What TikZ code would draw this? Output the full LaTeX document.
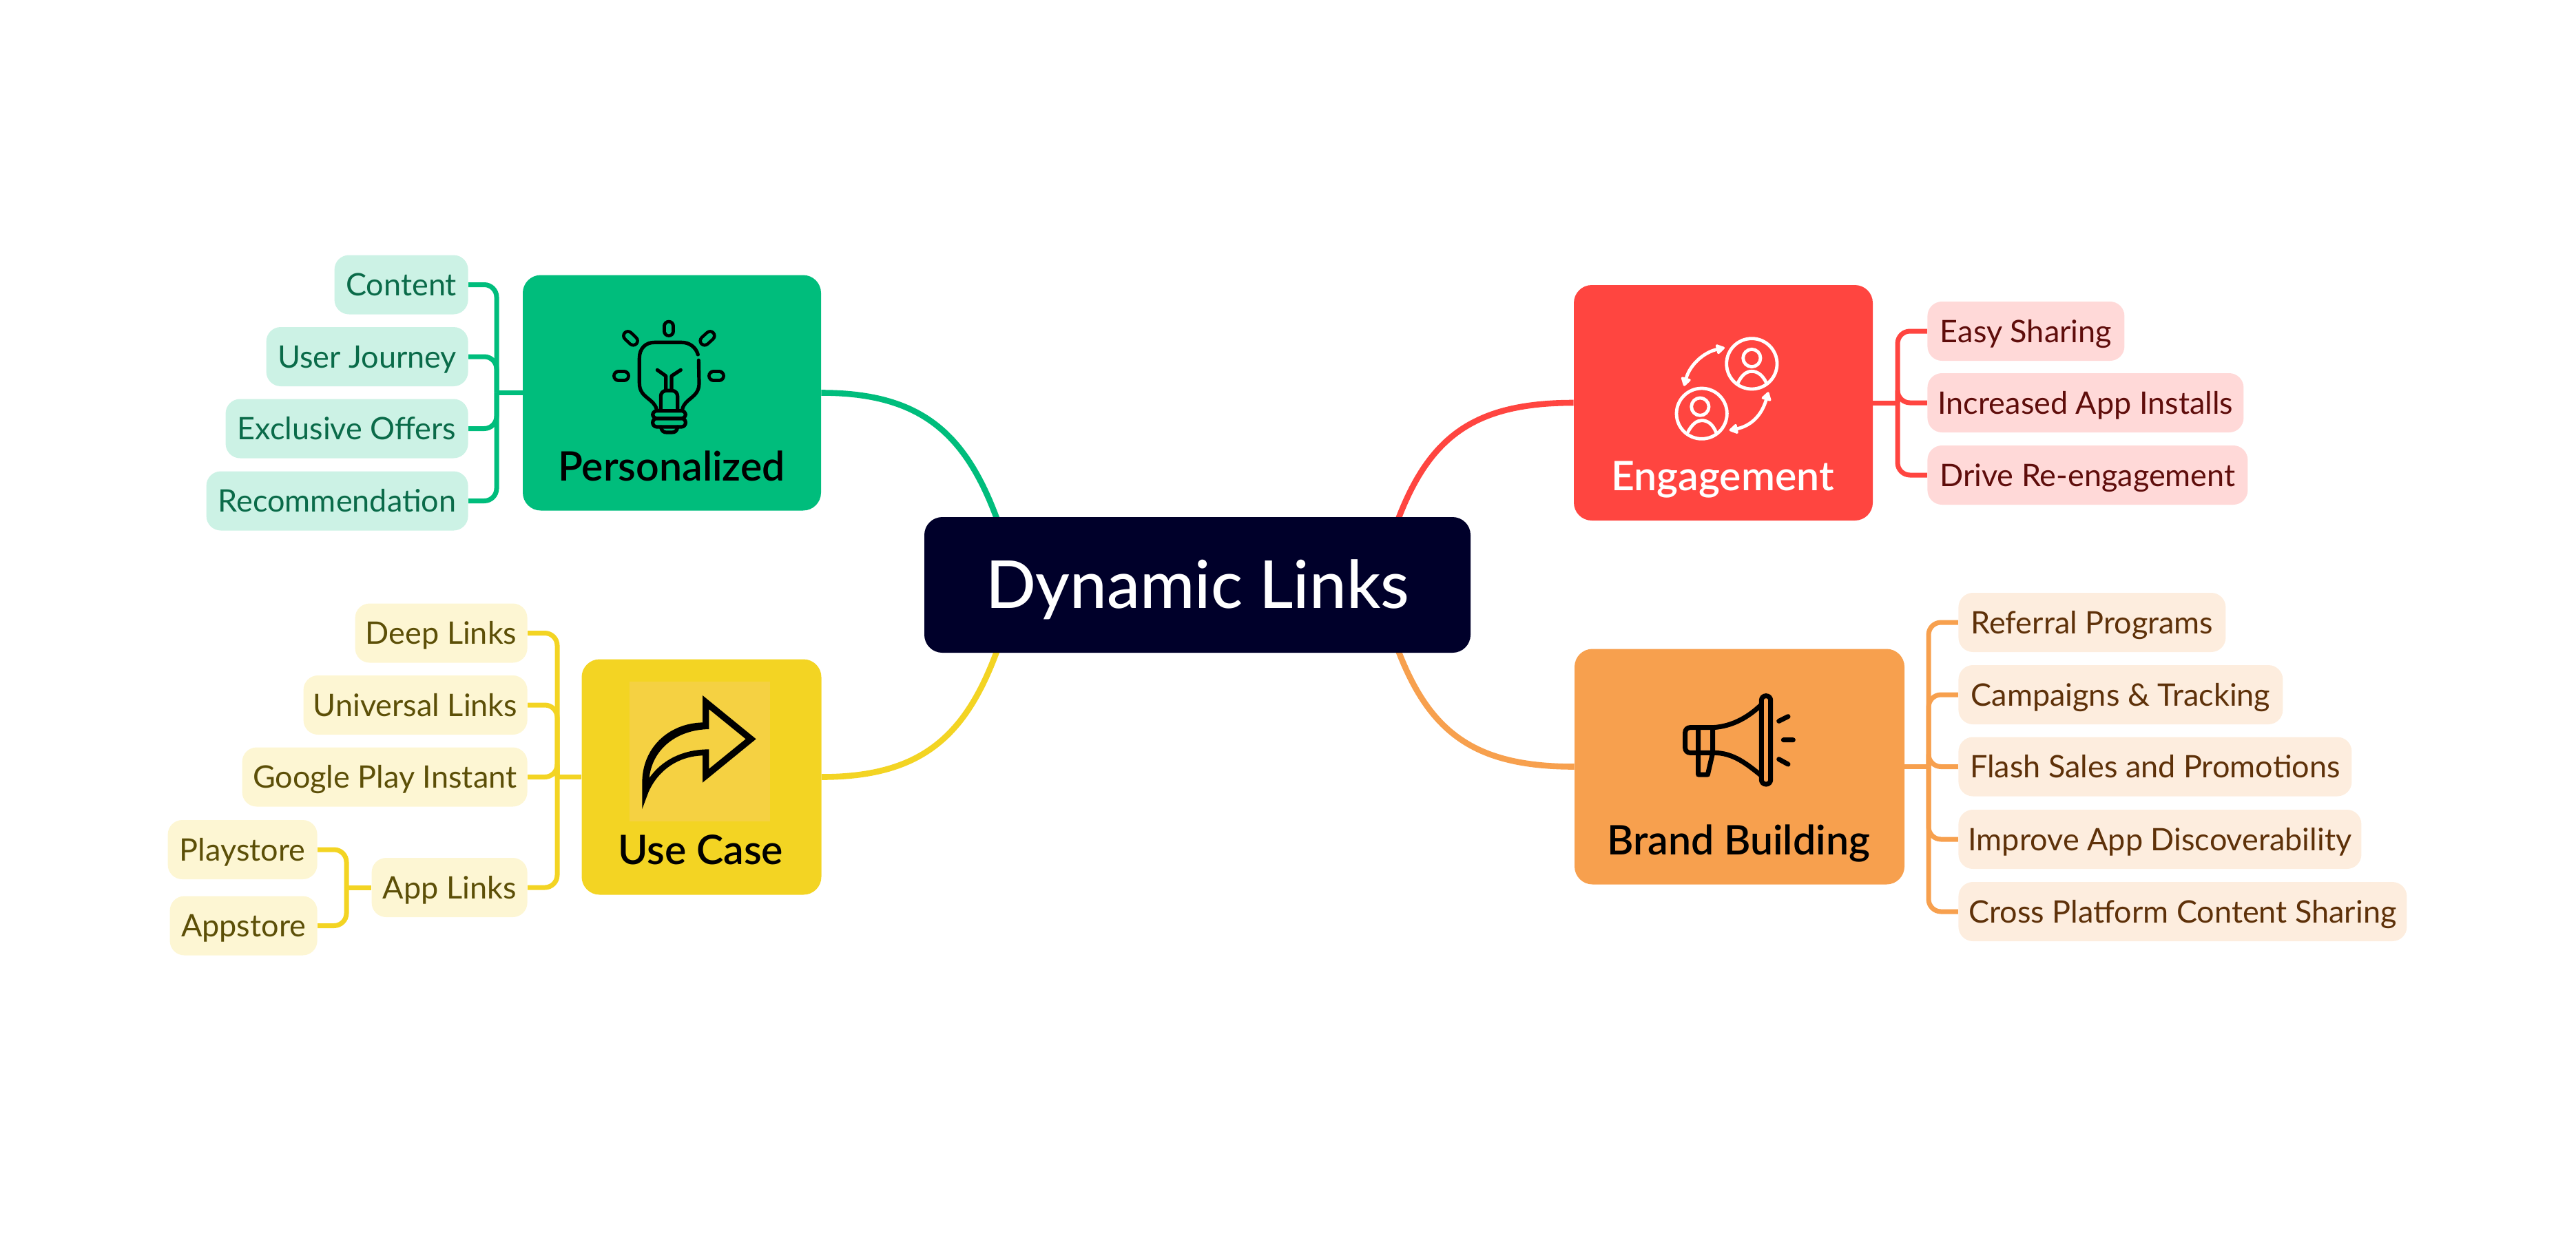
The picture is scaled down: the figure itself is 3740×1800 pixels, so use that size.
\documentclass[tikz,border=0pt]{standalone}
\usepackage{fontspec}
\setmainfont{Lato}
\newfontfamily\rootfont{Lato Medium}
\newfontfamily\titlefont{Lato Semibold}
\usetikzlibrary{backgrounds,arrows.meta}

\definecolor{rootcol}{HTML}{00002A}
\definecolor{greencol}{HTML}{00BD7C}
\definecolor{greenfill}{HTML}{CCF2E5}
\definecolor{greentext}{HTML}{0A6B49}
\definecolor{yellowcol}{HTML}{F3D423}
\definecolor{yellowfill}{HTML}{FDF6D3}
\definecolor{yellowtext}{HTML}{5C4F07}
\definecolor{yellowback}{HTML}{F5D142}
\definecolor{redcol}{HTML}{FF4540}
\definecolor{redfill}{HTML}{FFD9D8}
\definecolor{redtext}{HTML}{5F0D0B}
\definecolor{orangecol}{HTML}{F7A04E}
\definecolor{orangefill}{HTML}{FDEDDE}
\definecolor{orangetext}{HTML}{5E3109}

\tikzset{
  root/.style={fill=rootcol,text=white,rounded corners=13pt,inner sep=0pt,
    minimum width=396.5pt,minimum height=98.5pt,text height=37pt,text depth=3.5pt,
    font=\rootfont\fontsize{48}{54}\selectfont},
  topic/.style={fill=#1col,rounded corners=13pt,inner sep=0pt,minimum height=171pt},
  title/.style={anchor=base,inner sep=0pt,font=\titlefont\fontsize{29.5}{34}\selectfont},
  leaf/.style={fill=#1fill,text=#1text,rounded corners=10.5pt,inner sep=0pt,
    minimum height=43pt,text height=18pt,text depth=2pt,
    font=\fontsize{22.5}{27}\selectfont},
  leafR/.style={leaf=#1,anchor=east},
  leafL/.style={leaf=#1,anchor=west},
  trunk/.style={draw=#1col,line width=4.3pt},
  branch/.style={draw=#1col,line width=3.5pt,rounded corners=9pt},
  glyph/.style={x=0.16667pt,y=-0.16667pt,line cap=round,line join=round}
}

\begin{document}
\begin{tikzpicture}[x=0.5pt,y=-0.5pt]
  \useasboundingbox (0,0) rectangle (3740,1800);

  \node[root] (Root) at (1738.5,849.5) {Dynamic Links};

  % Personalized
  \node[topic=green,minimum width=216.5pt] (Personalized) at (975.5,570.5) {};
  \node[title] (PersonalizedT) at (975,698) {Personalized};
  \node[leafR=green,minimum width=97pt] (Content) at (680,413.5) {Content};
  \node[leafR=green,minimum width=146.5pt] (Journey) at (680,518) {User Journey};
  \node[leafR=green,minimum width=176pt] (Offers) at (680,622.5) {Exclusive Offers};
  \node[leafR=green,minimum width=190pt] (Recommend) at (680,727.5) {Recommendation};
  \coordinate (PersonalizedJ) at (721,570.5);
  \coordinate (PersonalizedE) at (1477,850);

  % Use Case
  \node[topic=yellow,minimum width=174pt] (UseCase) at (1018.5,1128.5) {};
  \node[title,text=black] (UseCaseT) at (1017,1255) {Use Case};
  \node[leafR=yellow,minimum width=125pt] (DeepLinks) at (766,919.5) {Deep Links};
  \node[leafR=yellow,minimum width=162.5pt] (UniLinks) at (766,1024) {Universal Links};
  \node[leafR=yellow,minimum width=207pt] (PlayInstant) at (766,1128.5) {Google Play Instant};
  \node[leafR=yellow,minimum width=113pt] (AppLinks) at (766,1289) {App Links};
  \node[leafR=yellow,minimum width=108.5pt] (Playstore) at (461,1234) {Playstore};
  \node[leafR=yellow,minimum width=107pt] (Appstore) at (461,1344.5) {Appstore};
  \coordinate (UseCaseJ) at (809,1128.5);
  \coordinate (AppLinksJ) at (503,1289);
  \coordinate (UseCaseE) at (1477,849);

  % Engagement
  \node[topic=red,minimum width=217pt] (Engagement) at (2502,585) {};
  \node[title,text=white] (EngagementT) at (2501,712) {Engagement};
  \node[leafL=red,minimum width=143pt] (EasyShare) at (2798,481) {Easy Sharing};
  \node[leafL=red,minimum width=229.5pt] (AppInstalls) at (2798,585) {Increased App Installs};
  \node[leafL=red,minimum width=232.5pt] (ReEngage) at (2798,690) {Drive Re-engagement};
  \coordinate (EngagementJ) at (2755,585);
  \coordinate (EngagementE) at (2000,850);

  % Brand Building
  \node[topic=orange,minimum width=239.5pt] (Brand) at (2525.5,1113.5) {};
  \node[title,text=black] (BrandT) at (2524,1241) {Brand Building};
  \node[leafL=orange,minimum width=194pt] (Referral) at (2843,904) {Referral Programs};
  \node[leafL=orange,minimum width=235.5pt] (Campaigns) at (2843,1009) {Campaigns \& Tracking};
  \node[leafL=orange,minimum width=285.5pt] (FlashSales) at (2843,1113.5) {Flash Sales and Promotions};
  \node[leafL=orange,minimum width=292.5pt] (Discover) at (2843,1219) {Improve App Discoverability};
  \node[leafL=orange,minimum width=325.5pt] (CrossPlat) at (2843,1324) {Cross Platform Content Sharing};
  \coordinate (BrandJ) at (2800,1113.5);
  \coordinate (BrandE) at (2000,849);

  % lines run under the boxes
  \begin{pgfonlayer}{background}
    \draw[trunk=green] (Personalized.east) .. controls +(178,0) and +(-50,-190) .. (PersonalizedE);
    \draw[trunk=yellow] (UseCase.east) .. controls +(178,0) and +(-50,190) .. (UseCaseE);
    \draw[trunk=red] (Engagement.west) .. controls +(-178,0) and +(50,-190) .. (EngagementE);
    \draw[trunk=orange] (Brand.west) .. controls +(-178,0) and +(50,190) .. (BrandE);

    \draw[branch=green] (Personalized.west) -- (PersonalizedJ);
    \foreach \leafname in {Content,Journey,Offers,Recommend}
      \draw[branch=green] (\leafname.east) -| (PersonalizedJ);

    \draw[branch=yellow] (UseCase.west) -- (UseCaseJ);
    \foreach \leafname in {DeepLinks,UniLinks,PlayInstant,AppLinks}
      \draw[branch=yellow] (\leafname.east) -| (UseCaseJ);
    \draw[branch=yellow] (AppLinks.west) -- (AppLinksJ);
    \foreach \leafname in {Playstore,Appstore}
      \draw[branch=yellow] (\leafname.east) -| (AppLinksJ);

    \draw[branch=red] (Engagement.east) -- (EngagementJ);
    \foreach \leafname in {EasyShare,AppInstalls,ReEngage}
      \draw[branch=red] (\leafname.west) -| (EngagementJ);

    \draw[branch=orange] (Brand.east) -- (BrandJ);
    \foreach \leafname in {Referral,Campaigns,FlashSales,Discover,CrossPlat}
      \draw[branch=orange] (\leafname.west) -| (BrandJ);
  \end{pgfonlayer}

  % bulb
  \begin{scope}[shift={(860,440)},glyph,line width=2.6pt]
    \foreach \rayA/\rayB in {{333,100}/{333,124},{113,318}/{139,318},{527,318}/{553,318},{155,143}/{178,165},{513,143}/{489,165}}{
      \draw[line width=8.6pt] (\rayA) -- (\rayB);
      \draw[greencol,line width=4pt] (\rayA) -- (\rayB);
    }
    \draw (460,225) .. controls (450,190) and (420,172) .. (390,172) -- (270,172)
      .. controls (230,172) and (205,200) .. (205,240) -- (205,350)
      .. controls (205,415) and (270,415) .. (280,465);
    \draw (463,250) -- (465,350) .. controls (465,415) and (400,415) .. (392,465);
    \draw (283,292) -- (320,318) -- (320,382);
    \draw (385,292) -- (345,318) -- (345,382);
    \draw[rounded corners=4pt] (298,465) -- (298,382) -- (371,382) -- (371,465);
    \draw[rounded corners=3pt] (263,470) rectangle (406,503);
    \draw[rounded corners=3pt] (263,503) rectangle (406,540);
    \draw (298,540) .. controls (303,560) and (310,564) .. (325,564) -- (345,564)
      .. controls (360,564) and (367,560) .. (372,540);
  \end{scope}

  % share arrow
  \fill[yellowback] (914,990) rectangle (1118,1193);
  \begin{scope}[shift={(900,980)},glyph]
    \fill[black,even odd rule] (360,90) -- (593,280) -- (360,470) -- (360,352)
      .. controls (260,355) and (170,410) .. (125,510) -- (97,585) -- (97,470)
      .. controls (97,320) and (210,212) .. (360,208) -- cycle
      (388,150) -- (548,280) -- (388,410) -- (388,325)
      .. controls (270,325) and (180,375) .. (128,450)
      .. controls (140,330) and (240,240) .. (388,237) -- cycle;
  \end{scope}

  % two people
  \begin{scope}[shift={(2400,470)},glyph,white,line width=2.4pt,
      >={Triangle[round,length=7pt,width=8pt]}]
    \draw (430,175) circle (110);
    \draw (430,150) circle (38);
    \draw (368,262) .. controls (385,225) and (405,208) .. (430,208)
      .. controls (455,208) and (478,225) .. (493,258);
    \draw (212,392) circle (110);
    \draw (205,362) circle (38);
    \draw (152,472) .. controls (170,438) and (190,422) .. (212,422)
      .. controls (238,422) and (260,438) .. (275,475);
    \draw[<->] (312,105) .. controls (220,125) and (160,180) .. (135,272);
    \draw[<->] (502,298) .. controls (475,395) and (430,445) .. (332,465);
  \end{scope}

  % megaphone
  \begin{scope}[shift={(2420,990)},glyph,line width=3.5pt]
    \draw[rounded corners=3.5pt] (205,200) -- (80,200) -- (80,310) -- (205,310);
    \draw (137,200) -- (137,405) -- (178,405) -- (200,310) -- (200,200);
    \draw (200,200) .. controls (290,195) and (360,150) .. (412,100);
    \draw (205,310) .. controls (290,310) and (350,360) .. (412,410);
    \draw[rounded corners=3.2pt] (412,62) rectangle (452,447);
    \draw (488,172) -- (528,152) (508,254) -- (550,254) (488,338) -- (528,360);
  \end{scope}
\end{tikzpicture}
\end{document}
